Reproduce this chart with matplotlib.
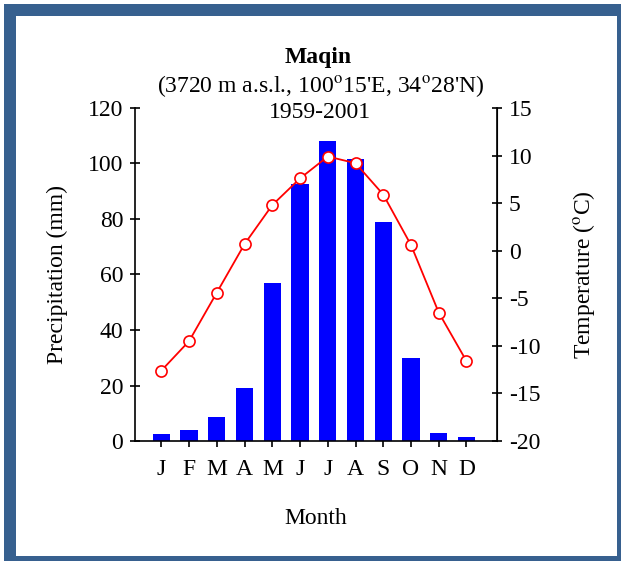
import matplotlib.pyplot as plt
from matplotlib.patches import Rectangle

# monthly climate data, Maqin 1959-2001
months = ['J', 'F', 'M', 'A', 'M', 'J', 'J', 'A', 'S', 'O', 'N', 'D']
precip = [2.5, 4.0, 8.6, 19.0, 57.0, 92.6, 108.0, 101.6, 79.0, 30.0, 3.0, 1.5]
temp = [-12.6, -9.5, -4.4, 0.7, 4.8, 7.6, 9.9, 9.2, 5.9, 0.6, -6.5, -11.6]

plt.rcParams['font.family'] = ['Liberation Serif', 'DejaVu Serif']
plt.rcParams['mathtext.fontset'] = 'stix'
plt.rcParams['axes.unicode_minus'] = False

fs = 17
W, H = 621, 561
fig = plt.figure(figsize=(W / 100, H / 100), dpi=100)
fig.patch.set_facecolor('white')

# blue frame around the picture (pixel boxes: left, top, right, bottom edges)
for x0, y0, x1, y1 in [(4, 4, 16, 561), (4, 4, 621, 16), (617, 4, 621, 561), (4, 556, 621, 561)]:
    fig.patches.append(Rectangle((x0 / W, 1 - y1 / H), (x1 - x0) / W, (y1 - y0) / H,
                                 transform=fig.transFigure, facecolor='#37608f',
                                 edgecolor='none', zorder=10))

x = list(range(1, 13))
ax = fig.add_axes([0.2174, 0.2139, 0.5829, 0.5936])
ax.bar(x, precip, width=0.62, color='#0000ff', zorder=2)
ax.set_ylim(0, 120)
ax.set_xlim(0.05, 13.1)
ax.set_yticks(range(0, 121, 20))
ax.set_xticks(x)
ax.set_xticklabels(months)
ax.spines['top'].set_visible(False)
ax.tick_params(axis='y', direction='inout', length=7, width=1.2, labelsize=fs, pad=5)
ax.tick_params(axis='x', direction='out', length=4, width=1.2, labelsize=fs, pad=9)
for s in ['left', 'bottom']:
    ax.spines[s].set_linewidth(1.2)
ax.set_ylabel('Precipitation (mm)', fontsize=fs, labelpad=14)
ax.set_xlabel('Month', fontsize=fs, labelpad=20)

ax2 = ax.twinx()
ax2.plot(x, temp, color='#ff0000', linewidth=1.3, marker='o', markersize=8,
         markerfacecolor='white', markeredgecolor='#ff0000', markeredgewidth=1.2, zorder=3)
ax2.set_ylim(-20, 15)
ax2.set_yticks(range(-20, 16, 5))
ax2.spines['top'].set_visible(False)
ax2.spines['right'].set_linewidth(1.2)
ax2.spines['left'].set_visible(False)
ax2.spines['bottom'].set_visible(False)
ax2.tick_params(axis='y', direction='inout', length=7, width=1.2, labelsize=fs, pad=5)
ax2.set_ylabel('Temperature ($^{\\rm o}$C)', fontsize=fs, labelpad=22)

fig.text(0.512, 1 - 58 / H, 'Maqin', ha='center', va='center', fontsize=fs, fontweight='bold')
fig.text(0.516, 1 - 86 / H, "(3720 m a.s.l., 100$^{\\rm o}$15'E, 34$^{\\rm o}$28'N)",
         ha='center', va='center', fontsize=fs)
fig.text(0.516, 1 - 113 / H, '1959-2001', ha='center', va='center', fontsize=fs)

fig.savefig('out.png', dpi=100)
